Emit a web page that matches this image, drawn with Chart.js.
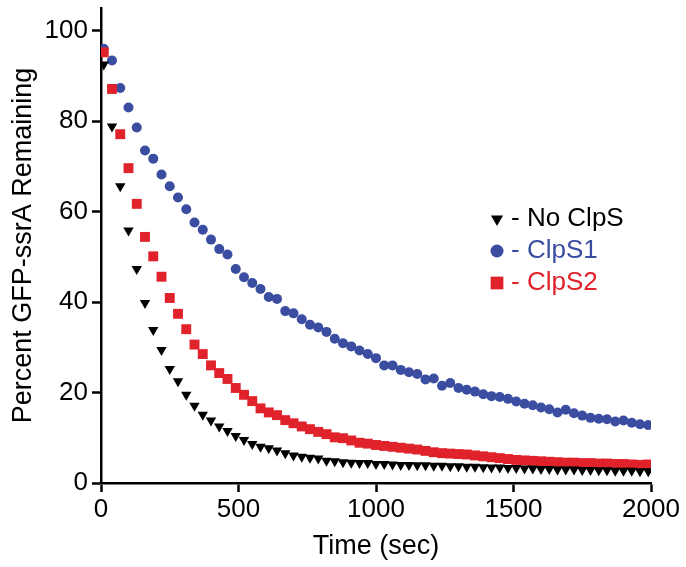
<!DOCTYPE html>
<html>
<head>
<meta charset="utf-8">
<script src="https://cdn.jsdelivr.net/npm/chart.js@4.4.1/dist/chart.umd.min.js"></script>
<style>
  html, body { margin: 0; padding: 0; background: #ffffff; }
  #wrap { width: 686px; height: 567px; }
</style>
</head>
<body>
<div id="wrap"><canvas id="decay" width="686" height="567"></canvas></div>
<script>
// time points (sec)
const times = [10, 40, 70, 100, 130, 160, 190, 220, 250, 280, 310, 340, 370, 400, 430, 460, 490, 520, 550, 580,
  610, 640, 670, 700, 730, 760, 790, 820, 850, 880, 910, 940, 970, 1000, 1030, 1060, 1090, 1120, 1150, 1180,
  1210, 1240, 1270, 1300, 1330, 1360, 1390, 1420, 1450, 1480, 1510, 1540, 1570, 1600, 1630, 1660, 1690, 1720,
  1750, 1780, 1810, 1840, 1870, 1900, 1930, 1960, 1990];

const noClpS = [92.5, 78.8, 65.6, 55.8, 47.3, 39.8, 33.8, 29.4, 25.2, 22.5, 19.5, 17.1, 15.1, 13.8, 12.5, 11.5,
  10.4, 9.5, 8.6, 8.0, 7.7, 7.2, 6.6, 6.1, 5.8, 5.6, 5.4, 4.9, 4.8, 4.6, 4.5, 4.4, 4.4, 4.2, 4.2, 4.1, 4.0, 4.0,
  3.9, 3.9, 3.8, 3.8, 3.7, 3.7, 3.6, 3.6, 3.5, 3.4, 3.4, 3.3, 3.3, 3.2, 3.2, 3.1, 3.1, 3.0, 3.0, 3.0, 2.9, 2.9,
  2.8, 2.8, 2.7, 2.7, 2.7, 2.6, 2.6];

const clpS1 = [96.0, 93.4, 87.3, 83.0, 78.6, 73.5, 71.7, 68.2, 65.6, 63.1, 60.5, 57.6, 56.0, 53.8, 51.7, 50.5,
  47.3, 45.5, 44.2, 42.9, 41.1, 40.7, 38.0, 37.5, 36.2, 35.0, 34.4, 33.4, 31.9, 30.9, 30.2, 29.3, 28.5, 27.6,
  26.0, 26.0, 25.0, 24.5, 24.1, 22.9, 23.1, 21.5, 22.1, 21.0, 20.6, 20.2, 19.6, 19.2, 19.0, 18.6, 18.0, 17.5,
  17.2, 16.7, 16.3, 15.6, 16.2, 15.4, 14.9, 14.4, 14.2, 14.1, 13.6, 13.8, 13.3, 13.0, 12.8];

const clpS2 = [95.2, 87.1, 77.1, 69.6, 61.7, 54.4, 50.1, 45.6, 40.9, 37.4, 34.0, 30.6, 28.5, 26.0, 24.3, 23.0,
  21.0, 19.5, 18.1, 16.5, 15.6, 15.0, 13.9, 13.2, 12.5, 11.9, 11.3, 10.8, 10.1, 9.9, 9.4, 8.9, 8.7, 8.4, 8.2,
  8.0, 7.8, 7.6, 7.4, 7.1, 6.8, 6.6, 6.5, 6.4, 6.3, 6.1, 5.9, 5.7, 5.5, 5.3, 5.1, 5.0, 4.9, 4.8, 4.7, 4.6, 4.5,
  4.5, 4.4, 4.4, 4.3, 4.3, 4.2, 4.2, 4.1, 4.0, 4.1];

const xTicks = [0, 500, 1000, 1500, 2000];
const yTicks = [0, 20, 40, 60, 80, 100];

const FONT = "'Liberation Sans', Arial, Helvetica, sans-serif";
const BLUE = "#3a4da1";
const RED = "#e0222b";

const toPoints = vals => vals.map((v, i) => ({ x: times[i], y: v }));

// legend drawn inside the plot, marker + "- label" in series colour
const insideLegend = {
  id: "insideLegend",
  afterDraw(chart, args, opts) {
    const ctx = chart.ctx;
    ctx.save();
    ctx.font = "26px " + FONT;
    ctx.textBaseline = "middle";
    ctx.textAlign = "left";
    opts.items.forEach((idx, row) => {
      const ds = chart.data.datasets[idx];
      const y = opts.y + row * opts.spacing;
      ctx.fillStyle = ds.backgroundColor;
      ctx.strokeStyle = ds.backgroundColor;
      Chart.helpers.drawPoint(ctx, {
        pointStyle: ds.pointStyle,
        radius: ds.legendRadius,
        rotation: ds.rotation || 0,
        borderWidth: 0
      }, opts.x, y);
      ctx.fillStyle = ds.backgroundColor;
      ctx.fillText("- " + ds.label, opts.x + 14, y);
    });
    ctx.restore();
  }
};

new Chart(document.getElementById("decay"), {
  type: "scatter",
  data: {
    datasets: [
      {
        label: "No ClpS",
        data: toPoints(noClpS),
        pointStyle: "triangle",
        rotation: 180,
        pointRadius: 6,
        legendRadius: 7,
        backgroundColor: "#000000",
        borderWidth: 0,
        order: 1
      },
      {
        label: "ClpS1",
        data: toPoints(clpS1),
        pointStyle: "circle",
        pointRadius: 5,
        legendRadius: 6.5,
        backgroundColor: BLUE,
        borderWidth: 0,
        order: 3
      },
      {
        label: "ClpS2",
        data: toPoints(clpS2),
        pointStyle: "rect",
        pointRadius: 7,
        legendRadius: 9,
        backgroundColor: RED,
        borderWidth: 0,
        order: 2
      }
    ]
  },
  options: {
    responsive: false,
    animation: false,
    layout: { padding: { top: 8, right: 35, left: 0, bottom: 0 } },
    scales: {
      x: {
        type: "linear",
        min: 0,
        max: 2000,
        afterBuildTicks: scale => { scale.ticks = xTicks.map(v => ({ value: v })); },
        afterFit: scale => {
          scale.height = 84;
          scale.paddingLeft = 0;
          scale.paddingRight = 0;
        },
        grid: { drawOnChartArea: false, drawTicks: true, tickLength: 9, tickWidth: 2.5, tickColor: "#000" },
        border: { color: "#000", width: 2.5 },
        ticks: {
          color: "#000",
          font: { family: FONT, size: 26 },
          padding: 2,
          maxRotation: 0,
          callback: v => String(v)
        },
        title: {
          display: true,
          text: "Time (sec)",
          color: "#000",
          font: { family: FONT, size: 27 },
          padding: { top: 0, bottom: 4 }
        }
      },
      y: {
        min: 0,
        max: 105,
        afterBuildTicks: scale => { scale.ticks = yTicks.map(v => ({ value: v })); },
        afterFit: scale => {
          scale.width = 101;
          scale.paddingTop = 0;
          scale.paddingBottom = 0;
        },
        grid: { drawOnChartArea: false, drawTicks: true, tickLength: 9, tickWidth: 2.5, tickColor: "#000" },
        border: { color: "#000", width: 2.5 },
        ticks: { color: "#000", font: { family: FONT, size: 26 }, padding: 4, callback: v => String(v) },
        title: {
          display: true,
          text: "Percent GFP-ssrA Remaining",
          color: "#000",
          font: { family: FONT, size: 27 },
          padding: { top: 7, bottom: 0 }
        }
      }
    },
    plugins: {
      legend: { display: false },
      tooltip: { enabled: false },
      insideLegend: { items: [0, 1, 2], x: 497, y: 219, spacing: 32 }
    }
  },
  plugins: [insideLegend]
});
</script>
</body>
</html>
